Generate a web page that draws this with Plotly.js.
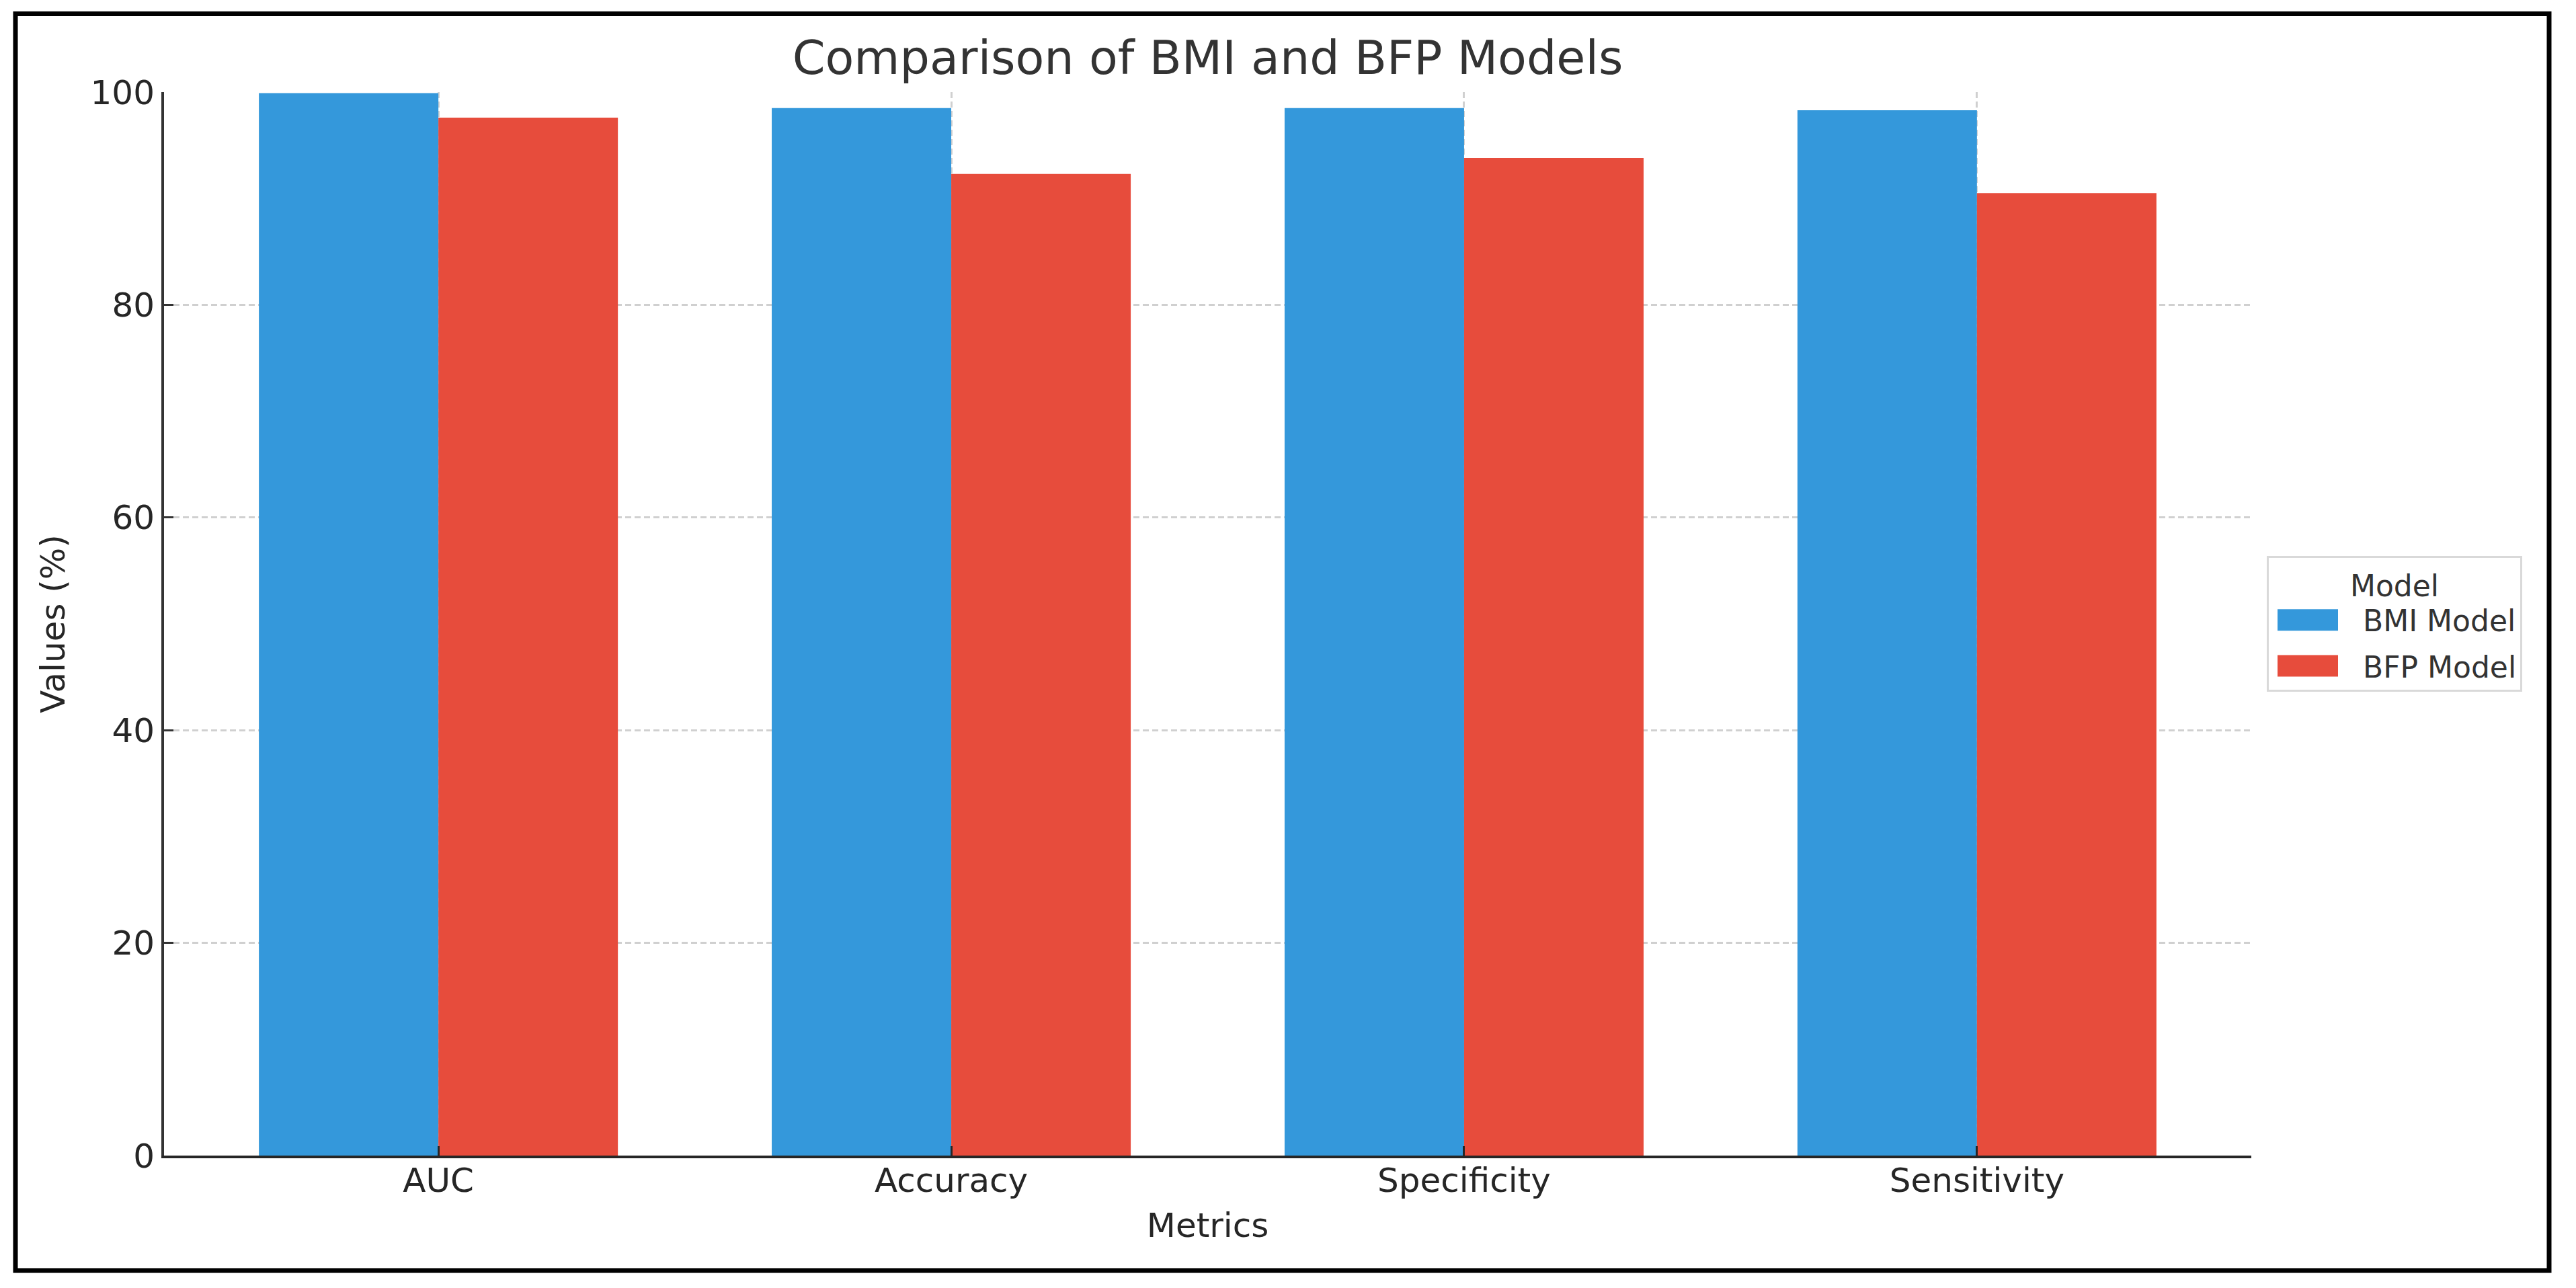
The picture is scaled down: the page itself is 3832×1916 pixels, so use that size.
<!DOCTYPE html>
<html>
<head>
<meta charset="utf-8">
<script src="https://cdn.plot.ly/plotly-3.0.1.min.js"></script>
<style>
  html, body { margin: 0; padding: 0; background: #ffffff; }
  #chart { width: 3832px; height: 1916px; }
</style>
</head>
<body>
<div id="chart"></div>
<script>
// ---- data ----
const metrics = ["AUC", "Accuracy", "Specificity", "Sensitivity"];
const bmiValues = [99.9, 98.5, 98.5, 98.3];
const bfpValues = [97.6, 92.3, 93.8, 90.5];
const seriesNames = ["BMI Model", "BFP Model"];
const yTicks = [0, 20, 40, 60, 80, 100];

const FONT = "DejaVu Sans, Liberation Sans, sans-serif";
const W = 3832, H = 1916;
const M = { l: 244, r: 483, t: 137, b: 197 };
const PW = W - M.l - M.r, PH = H - M.t - M.b;
const px2x = p => (p - M.l) / PW;
const px2y = p => (H - M.b - p) / PH;

const traces = [
  { type: "bar", name: seriesNames[0], x: metrics, y: bmiValues, legendgroup: "g1",
    marker: { color: "#3498db", line: { width: 0 } } },
  { type: "bar", name: seriesNames[1], x: metrics, y: bfpValues, legendgroup: "g2",
    marker: { color: "#e74c3c", line: { width: 0 } } }
];

const gridStyle = { showgrid: true, gridcolor: "#d0d0d0", gridwidth: 3, griddash: "9px,5px" };

const layout = {
  width: W, height: H,
  margin: M,
  paper_bgcolor: "#ffffff",
  plot_bgcolor: "#ffffff",
  font: { family: FONT, color: "#262626", size: 50 },
  barmode: "group",
  bargap: 0.3,
  bargroupgap: 0,
  showlegend: true,
  title: {
    text: "Comparison of BMI and BFP Models",
    font: { family: FONT, size: 70, color: "#333333" },
    x: 0.5, xref: "paper", xanchor: "center",
    y: 1 - 85.5 / H, yref: "container", yanchor: "middle"
  },
  xaxis: Object.assign({
    type: "category",
    range: [-0.535, 3.535],
    showline: true, linecolor: "#262626", linewidth: 4,
    ticks: "inside", ticklen: 14, tickwidth: 3, tickcolor: "#262626",
    ticklabelstandoff: -10,
    tickfont: { family: FONT, size: 50, color: "#262626" },
    title: { text: "Metrics", font: { family: FONT, size: 50, color: "#262626" }, standoff: 22 },
    zeroline: false, layer: "above traces", automargin: false
  }, gridStyle),
  yaxis: Object.assign({
    range: [0, 100],
    tickvals: yTicks,
    showline: true, linecolor: "#333333", linewidth: 4,
    ticks: "inside", ticklen: 14, tickwidth: 3, tickcolor: "#333333",
    tickfont: { family: FONT, size: 50, color: "#262626" },
    title: { text: "Values (%)", font: { family: FONT, size: 50, color: "#262626" }, standoff: 23 },
    zeroline: false, layer: "above traces", automargin: false
  }, gridStyle),
  legend: {
    x: px2x(3372), xref: "paper", xanchor: "left",
    y: 0.5, yanchor: "middle",
    bgcolor: "#ffffff", bordercolor: "#d9d9d9", borderwidth: 3,
    font: { family: FONT, size: 44, color: "#333333" },
    title: { text: "Model", side: "top center", font: { family: FONT, size: 44, color: "#333333" } },
    itemwidth: 130,
    entrywidth: 395,
    traceorder: "grouped",
    tracegroupgap: 8
  },
  shapes: [
    { type: "rect", xref: "paper", yref: "paper",
      x0: px2x(23), x1: px2x(3792), y0: px2y(1890), y1: px2y(20.5),
      line: { color: "#000000", width: 7 }, fillcolor: "rgba(0,0,0,0)", layer: "above" }
  ]
};

Plotly.newPlot("chart", traces, layout, { staticPlot: true, displayModeBar: false }).then(gd => {
  // enlarge legend swatches to match the reference's wide rectangles
  gd.querySelectorAll(".legend .traces").forEach(g => {
    const txt = g.querySelector(".legendtext");
    const path = g.querySelector(".legendpoints path");
    if (!txt || !path) return;
    const tx = parseFloat(txt.getAttribute("x")) || 0;
    const tr = path.getAttribute("transform") || "";
    const m = tr.match(/translate\(([-\d.]+)/);
    const cx = m ? parseFloat(m[1]) : 0;
    const right = tx - 37 - cx, left = right - 90;
    path.setAttribute("d", `M${left},16H${right}V-16H${left}Z`);
  });
});
</script>
</body>
</html>
